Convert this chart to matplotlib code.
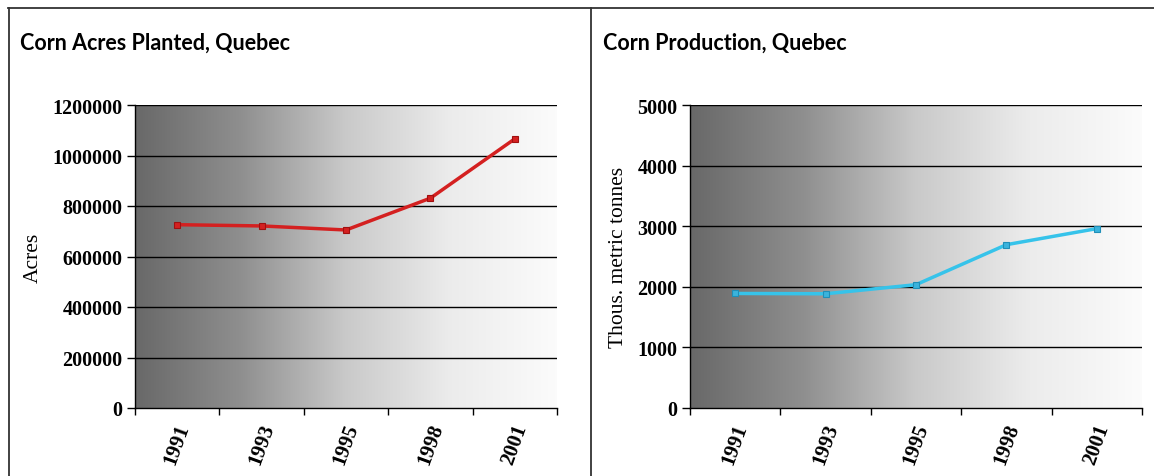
import numpy as np
import matplotlib
matplotlib.use("Agg")
import matplotlib.pyplot as plt
from matplotlib.colors import LinearSegmentedColormap
from matplotlib.lines import Line2D

years = ["1991", "1993", "1995", "1998", "2001"]
acres = [726000, 721000, 705000, 831000, 1066000]
production = [1890, 1885, 2035, 2695, 2960]

acres_ticks = [0, 200000, 400000, 600000, 800000, 1000000, 1200000]
prod_ticks = [0, 1000, 2000, 3000, 4000, 5000]

W, H = 1154, 477
fig = plt.figure(figsize=(W / 100, H / 100), dpi=100)
fig.patch.set_facecolor("white")

grad = LinearSegmentedColormap.from_list(
    "g", [(0.0, (0.41,) * 3), (0.25, (0.56,) * 3), (0.5, (0.79,) * 3),
          (0.75, (0.925,) * 3), (1.0, (0.985,) * 3)])

serif = ["Liberation Serif", "DejaVu Serif"]
title_font = ["Lato", "DejaVu Sans"]


def make_panel(rect, values, yticks, ylabel, color, mcolor, medge, title, tx):
    ax = fig.add_axes(rect)
    n = len(values)
    x = np.arange(n)
    ax.set_xlim(-0.5, n - 0.5)
    ax.set_ylim(yticks[0], yticks[-1])
    ax.imshow(np.linspace(0, 1, 256).reshape(1, -1), cmap=grad, aspect="auto",
              extent=[0, 1, 0, 1], transform=ax.transAxes, zorder=0,
              interpolation="bilinear")
    for yv in yticks[1:]:
        ax.axhline(yv, color="black", lw=1.0, zorder=1)
    ax.plot(x, values, color=color, lw=2.5, zorder=3, marker="s", ms=5,
            markerfacecolor=mcolor, markeredgecolor=medge, markeredgewidth=0.8)
    for s in ["top", "right"]:
        ax.spines[s].set_visible(False)
    for s in ["left", "bottom"]:
        ax.spines[s].set_color("black")
        ax.spines[s].set_linewidth(1.0)
    ax.set_yticks(yticks)
    ax.set_yticklabels([str(v) for v in yticks], fontfamily=serif,
                       fontweight="bold", fontsize=14.5)
    ax.tick_params(axis="y", direction="out", length=6, width=1, pad=3)
    ax.set_xticks(np.arange(-0.5, n, 1.0))
    ax.set_xticklabels([])
    ax.tick_params(axis="x", which="major", direction="out", length=5, width=1)
    ax.set_xticks(x, minor=True)
    ax.set_xticklabels(years, minor=True, rotation=70, fontfamily=serif,
                       fontweight="bold", fontsize=15, ha="center", va="top")
    ax.tick_params(axis="x", which="minor", length=0, pad=9)
    ax.set_ylabel(ylabel, fontfamily=serif, fontsize=15.5, labelpad=7)
    fig.text(tx / W, 1 - 50 / H, title, fontfamily=title_font,
             fontweight="bold", fontsize=15.5, ha="left", va="baseline")
    return ax


ax1 = make_panel([135 / W, 1 - 409 / H, 422 / W, 303 / H], acres, acres_ticks,
                 "Acres", "#d42020", "#d42020", "#a01010",
                 "Corn Acres Planted, Quebec", 20)
ax2 = make_panel([690 / W, 1 - 409 / H, 452 / W, 303 / H], production, prod_ticks,
                 "Thous. metric tonnes", "#36c3ea", "#3bb3dc", "#1f8fb8",
                 "Corn Production, Quebec", 603)

# panel frames
fig.add_artist(Line2D([8 / W, 1], [1 - 8.5 / H] * 2, color="#333333", lw=1.3,
                      transform=fig.transFigure))
fig.add_artist(Line2D([8.5 / W] * 2, [0, 1 - 8.5 / H], color="#333333", lw=1.3,
                      transform=fig.transFigure))
fig.add_artist(Line2D([590.5 / W] * 2, [0, 1 - 8.5 / H], color="#333333", lw=1.3,
                      transform=fig.transFigure))

fig.savefig("out.png", dpi=100, facecolor="white")
